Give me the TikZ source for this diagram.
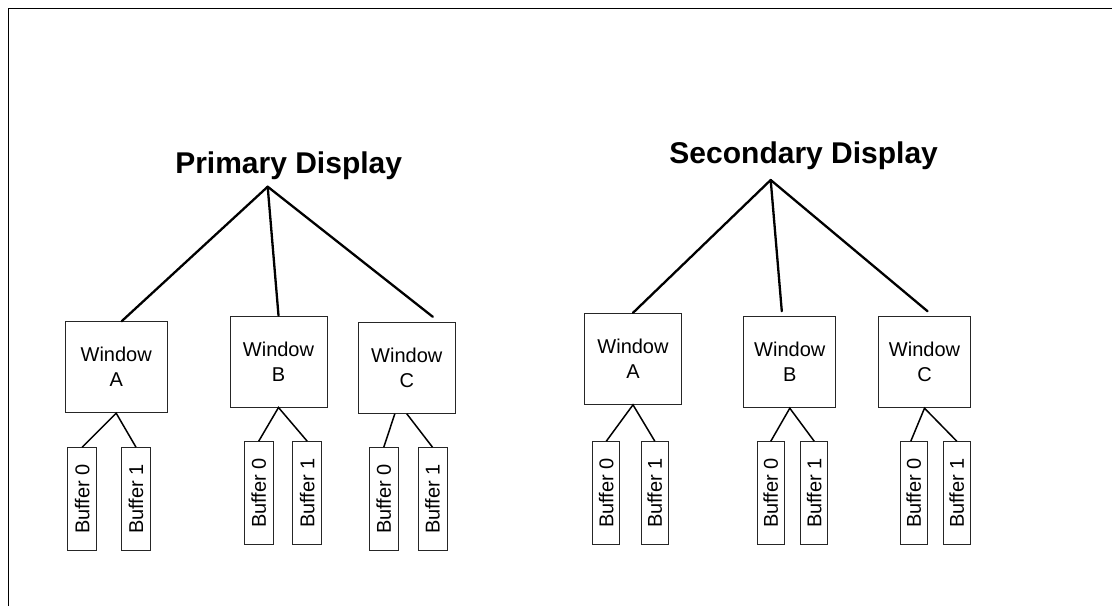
\documentclass[tikz,border=0pt]{standalone}
\usepackage{fontspec}
\setmainfont{Liberation Sans}
\usetikzlibrary{calc}

\tikzset{
  title/.style={font=\fontsize{30}{36}\selectfont\bfseries, inner sep=0pt, anchor=base},
  winbox/.style={draw=black!85, line width=1pt, minimum height=91pt, inner sep=0pt,
                 align=center, font=\fontsize{20}{25}\selectfont},
  bufbox/.style={draw=black!85, line width=1pt, minimum height=102.6pt, inner sep=0pt,
                 font=\fontsize{20}{20}\selectfont},
  trunk/.style={line width=2.3pt, line cap=round},
  twig/.style={line width=1.5pt},
  frame/.style={line width=1.5pt}
}

\begin{document}
\begin{tikzpicture}[x=1pt, y=-1pt]
  \useasboundingbox (0,0) rectangle (1112,606);
  \fill[white] (0,0) rectangle (1112,606);

  % page frame (top and left edges)
  \coordinate (fbl) at (8.3,606);
  \coordinate (ftl) at (8.3,8.5);
  \coordinate (ftr) at (1112,8.5);
  \draw[frame] (fbl) -- (ftl) -- (ftr);

  % ---------- primary display ----------
  \node[title] (ptitle) at (288.7,173.3) {Primary Display};
  \coordinate (papex) at (267.7,186.7);

  \node[winbox, minimum width=102.3pt] (pa) at (116.2,367.2) {Window\\A};
  \node[winbox, minimum width=97pt]    (pb) at (278.5,361.5) {Window\\B};
  \node[winbox, minimum width=97pt]    (pc) at (406.8,367.8) {Window\\C};

  \draw[trunk] (papex) -- ($(pa.north)+(5.5,0)$);
  \draw[trunk] (papex) -- (pb.north);
  \draw[trunk] (papex) -- ($(pc.north)+(26,-5)$);

  \node[bufbox, minimum width=29pt] (pa0) at (82.2,499)  {\rotatebox{90}{Buffer 0}};
  \node[bufbox, minimum width=29pt] (pa1) at (136,499)   {\rotatebox{90}{Buffer 1}};
  \node[bufbox, minimum width=29pt] (pb0) at (258.7,493) {\rotatebox{90}{Buffer 0}};
  \node[bufbox, minimum width=29pt] (pb1) at (307.2,493) {\rotatebox{90}{Buffer 1}};
  \node[bufbox, minimum width=29pt] (pc0) at (383.8,499) {\rotatebox{90}{Buffer 0}};
  \node[bufbox, minimum width=29pt] (pc1) at (432.5,499) {\rotatebox{90}{Buffer 1}};

  \draw[twig] (pa0.north) -- (pa.south) -- (pa1.north);
  \draw[twig] (pb0.north) -- (pb.south) -- (pb1.north);
  \draw[twig] (pc0.north) -- ($(pc.south)+(-12,0)$);
  \draw[twig] (pc.south) -- (pc1.north);

  % ---------- secondary display ----------
  \node[title] (stitle) at (803.7,163.3) {Secondary Display};
  \coordinate (sapex) at (770.7,180);

  \node[winbox, minimum width=97.4pt] (sa) at (633,358.8)   {Window\\A};
  \node[winbox, minimum width=91.7pt] (sb) at (789.8,362.2) {Window\\B};
  \node[winbox, minimum width=91.7pt] (sc) at (924.5,362.2) {Window\\C};

  \draw[trunk] (sapex) -- (sa.north);
  \draw[trunk] (sapex) -- ($(sb.north)+(-8,-5)$);
  \draw[trunk] (sapex) -- ($(sc.north)+(3,-5)$);

  \node[bufbox, minimum width=27pt] (sa0) at (606.3,493) {\rotatebox{90}{Buffer 0}};
  \node[bufbox, minimum width=27pt] (sa1) at (654.8,493) {\rotatebox{90}{Buffer 1}};
  \node[bufbox, minimum width=27pt] (sb0) at (770.8,493) {\rotatebox{90}{Buffer 0}};
  \node[bufbox, minimum width=27pt] (sb1) at (814.2,493) {\rotatebox{90}{Buffer 1}};
  \node[bufbox, minimum width=27pt] (sc0) at (913.8,493) {\rotatebox{90}{Buffer 0}};
  \node[bufbox, minimum width=27pt] (sc1) at (956.8,493) {\rotatebox{90}{Buffer 1}};

  \draw[twig] (sa0.north) -- (sa.south) -- (sa1.north);
  \draw[twig] (sb0.north) -- (sb.south) -- (sb1.north);
  \draw[twig] ($(sc0.north)+(-3,0)$) -- (sc.south) -- (sc1.north);
\end{tikzpicture}
\end{document}
